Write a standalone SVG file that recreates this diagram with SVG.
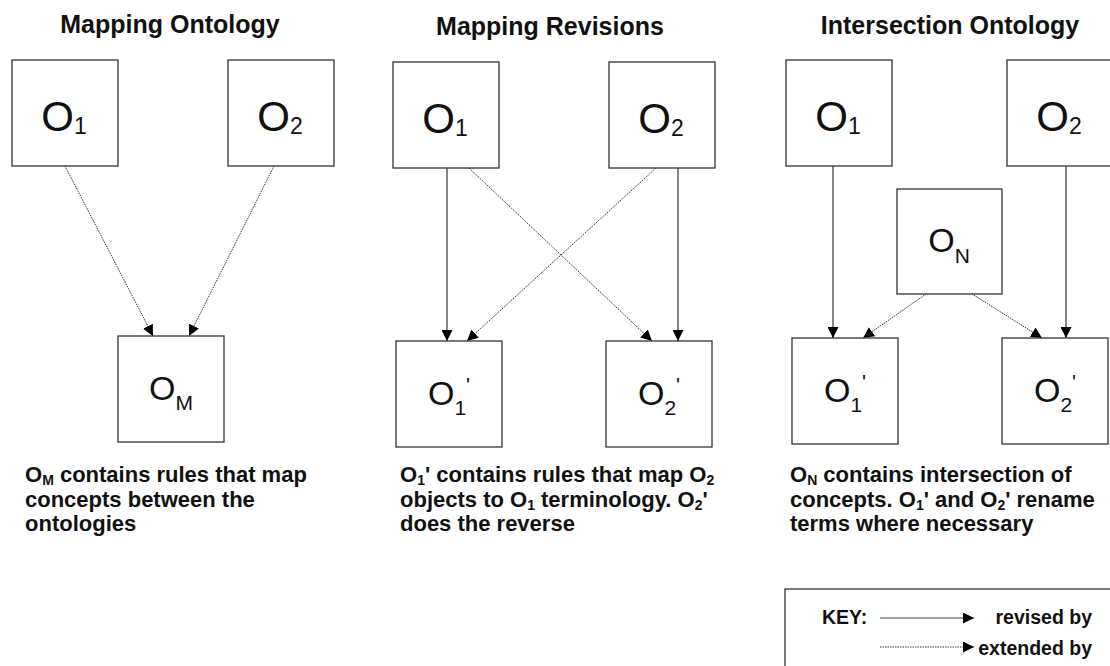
<svg xmlns="http://www.w3.org/2000/svg" width="1110" height="666" viewBox="0 0 1110 666">
  <style>
    .bg { fill: #ffffff; }
    .box { fill: #ffffff; stroke: #333333; stroke-width: 1.3; }
    .title { font-family: "Liberation Sans", Arial, sans-serif; font-weight: bold; font-size: 25px; fill: #111111; text-anchor: middle; }
    .lbl { font-family: "Liberation Sans", Arial, sans-serif; fill: #111111; text-anchor: middle; }
    .big { font-size: 42px; }
    .bigsub { font-size: 23px; }
    .mid { font-size: 34px; }
    .midsub { font-size: 21px; }
    .cap { font-family: "Liberation Sans", Arial, sans-serif; font-weight: bold; font-size: 22px; fill: #111111; }
    .sub { font-size: 14px; }
    .key { font-family: "Liberation Sans", Arial, sans-serif; font-weight: bold; font-size: 19.5px; fill: #111111; }
    .rev { fill: none; stroke: #444444; stroke-width: 1.3; marker-end: url(#head); }
    .ext { fill: none; stroke: #333333; stroke-width: 1; stroke-dasharray: 1.5 1; marker-end: url(#head); }
  </style>
  <defs>
    <!-- filled triangular arrowhead shared by every connector -->
    <marker id="head" viewBox="0 0 11 11" refX="11" refY="5.5" markerWidth="11" markerHeight="11" markerUnits="userSpaceOnUse" orient="auto">
      <path d="M0,0 L11,5.5 L0,11 z" fill="#000000"/>
    </marker>
  </defs>

  <rect class="bg" x="0" y="0" width="1110" height="666"/>

  <!-- panel titles -->
  <text class="title" x="170" y="33">Mapping Ontology</text>
  <text class="title" x="550" y="35">Mapping Revisions</text>
  <text class="title" x="950" y="34">Intersection Ontology</text>

  <!-- connectors -->
  <g id="connectors">
    <!-- mapping ontology -->
    <line class="ext" x1="65" y1="166" x2="153" y2="336"/>
    <line class="ext" x1="274" y1="166" x2="189" y2="336"/>
    <!-- mapping revisions -->
    <line class="rev" x1="447" y1="168" x2="447" y2="341"/>
    <line class="ext" x1="469" y1="168" x2="652" y2="341"/>
    <line class="ext" x1="656" y1="168" x2="467" y2="341"/>
    <line class="rev" x1="678" y1="168" x2="678" y2="341"/>
    <!-- intersection ontology -->
    <line class="rev" x1="833" y1="166" x2="833" y2="338"/>
    <line class="ext" x1="926" y1="294" x2="863" y2="338"/>
    <line class="ext" x1="972" y1="294" x2="1042" y2="338"/>
    <line class="rev" x1="1066" y1="166" x2="1066" y2="338"/>
  </g>

  <!-- Mapping Ontology -->
  <g id="map-o1">
    <rect class="box" x="12" y="60" width="106" height="106"/>
    <text class="lbl" x="64" y="131"><tspan class="big">O</tspan><tspan class="bigsub" dy="3">1</tspan></text>
  </g>
  <g id="map-o2">
    <rect class="box" x="228" y="60" width="106" height="106"/>
    <text class="lbl" x="280" y="131"><tspan class="big">O</tspan><tspan class="bigsub" dy="3">2</tspan></text>
  </g>
  <g id="map-om">
    <rect class="box" x="118" y="336" width="106" height="106"/>
    <text class="lbl" x="171" y="400"><tspan class="mid">O</tspan><tspan class="midsub" dy="10">M</tspan></text>
  </g>

  <!-- Mapping Revisions -->
  <g id="rev-o1">
    <rect class="box" x="393" y="62" width="106" height="106"/>
    <text class="lbl" x="445" y="133"><tspan class="big">O</tspan><tspan class="bigsub" dy="3">1</tspan></text>
  </g>
  <g id="rev-o2">
    <rect class="box" x="609" y="62" width="106" height="106"/>
    <text class="lbl" x="661" y="133"><tspan class="big">O</tspan><tspan class="bigsub" dy="3">2</tspan></text>
  </g>
  <g id="rev-o1p">
    <rect class="box" x="396" y="341" width="106" height="106"/>
    <text class="lbl" x="449" y="405"><tspan class="mid">O</tspan><tspan class="midsub" dy="10">1</tspan><tspan class="midsub" dy="-23">'</tspan></text>
  </g>
  <g id="rev-o2p">
    <rect class="box" x="606" y="341" width="106" height="106"/>
    <text class="lbl" x="659" y="405"><tspan class="mid">O</tspan><tspan class="midsub" dy="10">2</tspan><tspan class="midsub" dy="-23">'</tspan></text>
  </g>

  <!-- Intersection Ontology -->
  <g id="int-o1">
    <rect class="box" x="786" y="60" width="106" height="106"/>
    <text class="lbl" x="838" y="131"><tspan class="big">O</tspan><tspan class="bigsub" dy="3">1</tspan></text>
  </g>
  <g id="int-o2">
    <rect class="box" x="1007" y="60" width="106" height="106"/>
    <text class="lbl" x="1059" y="131"><tspan class="big">O</tspan><tspan class="bigsub" dy="3">2</tspan></text>
  </g>
  <g id="int-on">
    <rect class="box" x="897" y="189" width="105" height="105"/>
    <text class="lbl" x="949" y="252"><tspan class="mid">O</tspan><tspan class="midsub" dy="11">N</tspan></text>
  </g>
  <g id="int-o1p">
    <rect class="box" x="792" y="338" width="106" height="106"/>
    <text class="lbl" x="845" y="402"><tspan class="mid">O</tspan><tspan class="midsub" dy="10">1</tspan><tspan class="midsub" dy="-23">'</tspan></text>
  </g>
  <g id="int-o2p">
    <rect class="box" x="1002" y="338" width="106" height="106"/>
    <text class="lbl" x="1055" y="402"><tspan class="mid">O</tspan><tspan class="midsub" dy="10">2</tspan><tspan class="midsub" dy="-23">'</tspan></text>
  </g>

  <!-- captions -->
  <text class="cap" x="25" y="482">O<tspan class="sub" dy="3">M</tspan><tspan dy="-3"> contains rules that map</tspan></text>
  <text class="cap" x="25" y="507">concepts between the</text>
  <text class="cap" x="25" y="531">ontologies</text>

  <text class="cap" x="400" y="482">O<tspan class="sub" dy="3">1</tspan><tspan dy="-3">' contains rules that map O</tspan><tspan class="sub" dy="3">2</tspan></text>
  <text class="cap" x="400" y="507">objects to O<tspan class="sub" dy="3">1</tspan><tspan dy="-3"> terminology. O</tspan><tspan class="sub" dy="3">2</tspan><tspan dy="-3">'</tspan></text>
  <text class="cap" x="400" y="531">does the reverse</text>

  <text class="cap" x="790" y="482">O<tspan class="sub" dy="3">N</tspan><tspan dy="-3"> contains intersection of</tspan></text>
  <text class="cap" x="790" y="507">concepts. O<tspan class="sub" dy="3">1</tspan><tspan dy="-3">' and O</tspan><tspan class="sub" dy="3">2</tspan><tspan dy="-3">' rename</tspan></text>
  <text class="cap" x="790" y="531">terms where necessary</text>

  <!-- key -->
  <g id="key">
    <rect class="box" x="785" y="589" width="340" height="100"/>
    <text class="key" x="822" y="624">KEY:</text>
    <line class="rev" x1="880" y1="618" x2="974" y2="618" style="stroke-width:1"/>
    <line class="ext" x1="880" y1="647" x2="974" y2="647"/>
    <text class="key" x="1092" y="624" text-anchor="end">revised by</text>
    <text class="key" x="1092" y="655" text-anchor="end">extended by</text>
  </g>
</svg>
